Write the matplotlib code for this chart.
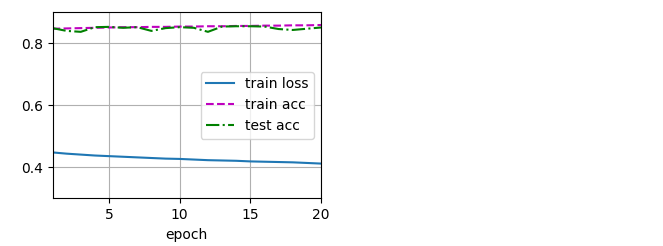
import numpy as np
import matplotlib.pyplot as plt

# values
epochs = list(range(1, 21))
train_loss = [0.448, 0.444, 0.441, 0.438, 0.436, 0.434, 0.432, 0.430, 0.428, 0.427,
              0.425, 0.423, 0.422, 0.421, 0.419, 0.418, 0.417, 0.416, 0.414, 0.412]
train_acc = [0.847, 0.848, 0.849, 0.850, 0.851, 0.852, 0.852, 0.853, 0.853, 0.854,
             0.854, 0.855, 0.855, 0.856, 0.856, 0.857, 0.857, 0.858, 0.858, 0.859]
test_acc = [0.849, 0.840, 0.837, 0.852, 0.853, 0.850, 0.852, 0.840, 0.849, 0.852,
            0.850, 0.837, 0.854, 0.855, 0.855, 0.854, 0.846, 0.843, 0.847, 0.851]

fig = plt.figure(figsize=(6.63, 2.46), dpi=100)
ax = fig.add_axes([52.5 / 663, 1 - 198.3 / 246, (321 - 52.5) / 663, (198.3 - 12.3) / 246])

ax.plot(epochs, train_loss, '-', color='C0', label='train loss')
ax.plot(epochs, train_acc, 'm--', label='train acc')
ax.plot(epochs, test_acc, 'g-.', label='test acc')

ax.set_xlim(1, 20)
ax.set_ylim(0.3, 0.9)
ax.set_xticks([5, 10, 15, 20])
ax.set_yticks([0.4, 0.6, 0.8])
ax.set_xlabel('epoch')
ax.grid(True)
ax.legend(loc='center right')

fig.savefig('out.png', dpi=100)
